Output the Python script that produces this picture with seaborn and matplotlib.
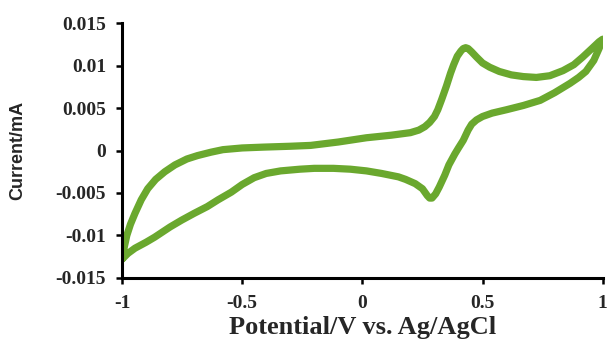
import numpy as np
import pandas as pd
import matplotlib
matplotlib.use("Agg")
import matplotlib.pyplot as plt
import seaborn as sns

# anodic (forward) scan, -1 V -> 1 V
potential_fwd = [-1.0, -0.99, -0.98, -0.965, -0.946, -0.92, -0.893, -0.86, -0.822, -0.78,
                 -0.73, -0.686, -0.63, -0.58, -0.5, -0.41, -0.3, -0.215, -0.1, 0.017,
                 0.12, 0.2, 0.235, 0.26, 0.28, 0.3, 0.314, 0.33, 0.35, 0.367,
                 0.38, 0.395, 0.41, 0.42, 0.43, 0.44, 0.455, 0.475, 0.5, 0.53,
                 0.57, 0.62, 0.67, 0.724, 0.78, 0.835, 0.88, 0.917, 0.955, 0.985,
                 1.0]
current_fwd = [-0.0128, -0.0113, -0.0100, -0.0087, -0.0074, -0.0058, -0.0045, -0.0034, -0.0025, -0.0017,
               -0.0010, -0.0006, -0.0002, 0.0001, 0.0003, 0.0004, 0.0005, 0.0006, 0.0010, 0.0015,
               0.0018, 0.0021, 0.0024, 0.0028, 0.0033, 0.0040, 0.0048, 0.0060, 0.0076, 0.0091,
               0.0101, 0.0111, 0.0117, 0.0120, 0.0121, 0.0120, 0.0116, 0.0110, 0.0103, 0.0098,
               0.0093, 0.0089, 0.0087, 0.0086, 0.0088, 0.0094, 0.0101, 0.0110, 0.0120, 0.0128,
               0.0131]

# cathodic (reverse) scan, 1 V -> -1 V
potential_rev = [1.0, 0.985, 0.963, 0.93, 0.9, 0.864, 0.8, 0.74, 0.67, 0.6,
                 0.54, 0.5, 0.475, 0.455, 0.44, 0.42, 0.4, 0.385, 0.36, 0.343,
                 0.32, 0.305, 0.29, 0.28, 0.27, 0.25, 0.22, 0.18, 0.15, 0.08,
                 0.017, -0.05, -0.12, -0.2, -0.26, -0.34, -0.4, -0.45, -0.5, -0.545,
                 -0.6, -0.645, -0.7, -0.752, -0.8, -0.864, -0.9, -0.946, -0.975, -1.0]
current_rev = [0.0131, 0.0120, 0.0106, 0.0093, 0.0086, 0.0079, 0.0068, 0.0059, 0.0053, 0.0048,
               0.0044, 0.0040, 0.0036, 0.0031, 0.0024, 0.0012, 0.0003, -0.0004, -0.0017, -0.0029,
               -0.0043, -0.0051, -0.0056, -0.0056, -0.0053, -0.0045, -0.0039, -0.0034, -0.0031, -0.0027,
               -0.0024, -0.0022, -0.0021, -0.0021, -0.0022, -0.0024, -0.0027, -0.0032, -0.0040, -0.0049,
               -0.0058, -0.0066, -0.0074, -0.0082, -0.0090, -0.0102, -0.0108, -0.0115, -0.0121, -0.0128]

x_ticks = [-1, -0.5, 0, 0.5, 1]
x_tick_labels = ["-1", "-0.5", "0", "0.5", "1"]
y_ticks = [-0.015, -0.01, -0.005, 0, 0.005, 0.01, 0.015]
y_tick_labels = ["-0.015", "-0.01", "-0.005", "0", "0.005", "0.01", "0.015"]

df = pd.DataFrame({
    "Potential": potential_fwd + potential_rev,
    "Current": current_fwd + current_rev,
})

sns.set_style("ticks")
plt.rcParams['font.family'] = ['Liberation Serif', 'DejaVu Serif']

fig = plt.figure(figsize=(6.1, 3.44), dpi=100)
ax = fig.add_axes([0.2, 0.192, 0.788, 0.741])

sns.lineplot(data=df, x="Potential", y="Current", sort=False, estimator=None,
             color="#6aa82e", linewidth=5.2, ax=ax, solid_capstyle="round",
             solid_joinstyle="round")

ax.set_xlim(-1, 1)
ax.set_ylim(-0.015, 0.015)
ax.set_xticks(x_ticks)
ax.set_xticklabels(x_tick_labels, fontsize=14, fontweight="bold")
ax.set_yticks(y_ticks)
ax.set_yticklabels(y_tick_labels, fontsize=14, fontweight="bold")
ax.tick_params(axis="both", direction="out", length=4.5, width=1.8, color="black")
ax.tick_params(axis="x", pad=8)
ax.tick_params(axis="y", pad=7)

for side in ["top", "right"]:
    ax.spines[side].set_visible(False)
for side in ["left", "bottom"]:
    ax.spines[side].set_linewidth(2.2)
    ax.spines[side].set_color("black")

ax.set_xlabel("Potential/V vs. Ag/AgCl", fontsize=19, fontweight="bold", labelpad=3)
ax.set_ylabel("Current/mA", fontsize=13, fontweight="bold",
              family=["Liberation Sans", "DejaVu Sans"])
ax.yaxis.set_label_coords(-0.2, 0.5)

plt.savefig("out.png", dpi=100)
